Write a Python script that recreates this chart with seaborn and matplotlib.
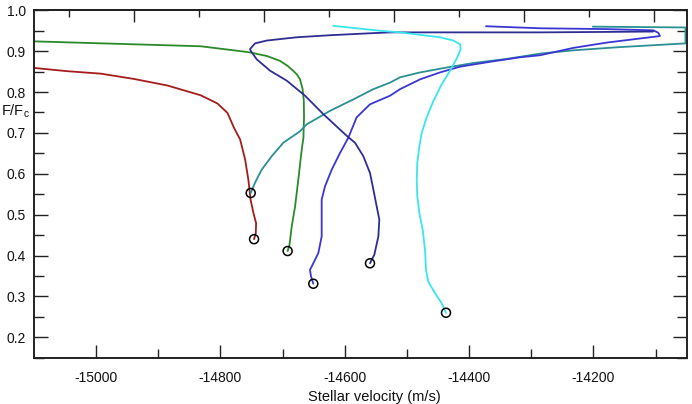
"""
Line profile bisectors: F/Fc against stellar velocity
"""
import pandas as pd
import numpy as np
import matplotlib.pyplot as plt
import seaborn as sns

sns.set_style("ticks")
plt.rcParams['font.family'] = ['Liberation Sans', 'DejaVu Sans']
plt.rcParams['mathtext.fontset'] = 'custom'
plt.rcParams['mathtext.rm'] = 'Liberation Sans'
plt.rcParams['axes.unicode_minus'] = False

# Curves, starting at the circled end
red_v = [-14746, -14743.2, -14742.7, -14747, -14751.5, -14755.2, -14760.4, -14768.4,
         -14778.1, -14788.8, -14804.9, -14831.7, -14885.4, -14939, -14992.6, -15046.4,
         -15100]
red_f = [0.440, 0.455, 0.479, 0.504, 0.536, 0.586, 0.635, 0.684,
         0.712, 0.749, 0.772, 0.792, 0.816, 0.832, 0.845, 0.851,
         0.859]

green_v = [-14692, -14689, -14685.4, -14680, -14674.8, -14669.3, -14666.6, -14665.6,
           -14666, -14668, -14672, -14677, -14683, -14692, -14704, -14725, -14752.5,
           -14778, -14832, -15100]
green_f = [0.411, 0.426, 0.471, 0.520, 0.586, 0.659, 0.688, 0.738,
           0.780, 0.808, 0.831, 0.843, 0.852, 0.864, 0.876, 0.888, 0.897,
           0.902, 0.912, 0.924]

teal_v = [-14751.4, -14744.5, -14733.7, -14717.6, -14698.9, -14672, -14661.3, -14623.8,
          -14586.3, -14554.2, -14527.3, -14511.2, -14479, -14436, -14393.3, -14339.6,
          -14286, -14233, -14157, -14052, -14052, -14125, -14201]
teal_f = [0.553, 0.578, 0.610, 0.643, 0.676, 0.704, 0.721, 0.754,
          0.782, 0.807, 0.823, 0.836, 0.848, 0.860, 0.871, 0.881,
          0.894, 0.902, 0.910, 0.919, 0.958, 0.959, 0.960]

blue_v = [-14650.7, -14654.4, -14656, -14650.7, -14642.6, -14637.2, -14637.2, -14637.2,
          -14631.9, -14621.1, -14607.7, -14594.4, -14581, -14559.5, -14527.3, -14511.2,
          -14479, -14446.9, -14414.7, -14366.4, -14318.2, -14286, -14232.4, -14178.7,
          -14125.2, -14093, -14095.7, -14103.7, -14178.7, -14286, -14372.9]
blue_f = [0.331, 0.349, 0.365, 0.381, 0.406, 0.447, 0.496, 0.537,
          0.569, 0.610, 0.651, 0.688, 0.738, 0.770, 0.791, 0.807,
          0.831, 0.848, 0.862, 0.874, 0.885, 0.890, 0.908, 0.921,
          0.931, 0.937, 0.945, 0.951, 0.954, 0.956, 0.961]

navy_v = [-14559.5, -14552.5, -14546, -14544.5, -14548.7, -14554, -14559.5, -14570.2,
          -14583.6, -14597, -14634.6, -14664, -14693.5, -14720, -14741.7, -14751.4,
          -14752.5, -14744.5, -14725.6, -14677.4, -14623.8, -14570.2, -14527.3, -14414.7,
          -14286, -14189.4, -14104]
navy_f = [0.381, 0.402, 0.447, 0.488, 0.520, 0.561, 0.602, 0.643,
          0.676, 0.693, 0.746, 0.791, 0.828, 0.852, 0.880, 0.901,
          0.905, 0.919, 0.926, 0.934, 0.939, 0.943, 0.946, 0.946,
          0.946, 0.947, 0.948]

cyan_v = [-14437.2, -14444.1, -14454.9, -14465.7, -14469.4, -14471, -14474.7, -14480.1,
          -14483.4, -14484.3, -14483.4, -14480.1, -14476.3, -14468.3, -14457.6, -14444.1,
          -14430.8, -14419, -14413.5, -14414.7, -14425.4, -14446.9, -14473.7, -14511.2,
          -14543.4, -14618.5]
cyan_f = [0.260, 0.283, 0.308, 0.336, 0.365, 0.414, 0.463, 0.504,
          0.545, 0.586, 0.627, 0.667, 0.700, 0.738, 0.778, 0.819,
          0.852, 0.885, 0.905, 0.917, 0.926, 0.934, 0.939, 0.946,
          0.950, 0.962]

curves = {
    'red': (red_v, red_f),
    'green': (green_v, green_f),
    'teal': (teal_v, teal_f),
    'blue': (blue_v, blue_f),
    'navy': (navy_v, navy_f),
    'cyan': (cyan_v, cyan_f),
}
palette = {
    'red': '#a51c1c',
    'green': '#2a8a2a',
    'teal': '#2b8f93',
    'blue': '#3a36d6',
    'navy': '#2e2e92',
    'cyan': '#38e6ee',
}

df = pd.concat([pd.DataFrame({'curve': name, 'v': v, 'F': f})
                for name, (v, f) in curves.items()], ignore_index=True)
ends = df.groupby('curve', sort=False).first().reset_index()

fig = plt.figure(figsize=(6.92, 4.04), dpi=100)
ax = fig.add_axes([34 / 692, 1 - 357.7 / 404, 652.7 / 692, 347.4 / 404])

sns.lineplot(data=df, x='v', y='F', hue='curve', palette=palette, sort=False,
             estimator=None, legend=False, linewidth=1.3, ax=ax)
sns.scatterplot(data=ends, x='v', y='F', marker='o', s=42, facecolor='none',
                edgecolor='black', linewidth=1.1, legend=False, ax=ax, zorder=5)

ax.set_xlim(-15100, -14050)
ax.set_ylim(0.15, 1.0)
ax.set_xticks([-15000, -14800, -14600, -14400, -14200])
ax.set_xticks(np.arange(-15000, -14050, 100), minor=True)
ax.set_yticks(np.arange(0.2, 1.01, 0.1))
ax.set_yticks(np.arange(0.15, 1.0, 0.05), minor=True)
ax.set_yticklabels([f'{t:.1f}' for t in np.arange(0.2, 1.01, 0.1)])

for side in ['left', 'right', 'top', 'bottom']:
    ax.spines[side].set_linewidth(1.4)
    ax.spines[side].set_color('#222222')

ax.tick_params(axis='both', which='both', direction='in', color='#222222',
               width=1.0, labelsize=10, labelcolor='#111111')
ax.tick_params(axis='x', which='major', length=9.6, pad=9.4, top=False)
ax.tick_params(axis='x', which='minor', length=6.7, top=False)
ax.tick_params(axis='y', which='major', length=9.8, pad=5.8, right=True)
ax.tick_params(axis='y', which='minor', length=7.0, right=True)

# top axis carries its own (unlabelled) scale
v0, step = -14939.0, 209.25
top = ax.secondary_xaxis('top', functions=(lambda v: (v - v0) / step,
                                           lambda t: t * step + v0))
top.set_xticks(np.arange(0, 5))
top.set_xticks(np.arange(-0.5, 4.5, 1.0), minor=True)
top.tick_params(which='both', direction='in', color='#222222', width=1.0,
                labeltop=False)
top.tick_params(which='major', length=8.4)
top.tick_params(which='minor', length=4.8)
top.spines['top'].set_linewidth(1.4)
top.spines['top'].set_color('#222222')

ax.set_xlabel('Stellar velocity (m/s)', fontsize=10.5, color='#111111')
ax.xaxis.set_label_coords((374.5 - 34) / 652.7, -(389.5 - 357.7) / 347.4)
ax.set_ylabel('')
fig.text(1 / 692, 1 - 115 / 404, r'F/F$_\mathregular{c}$', ha='left',
         va='baseline', fontsize=10.5, color='#111111')

fig.savefig('out.png', dpi=100)
